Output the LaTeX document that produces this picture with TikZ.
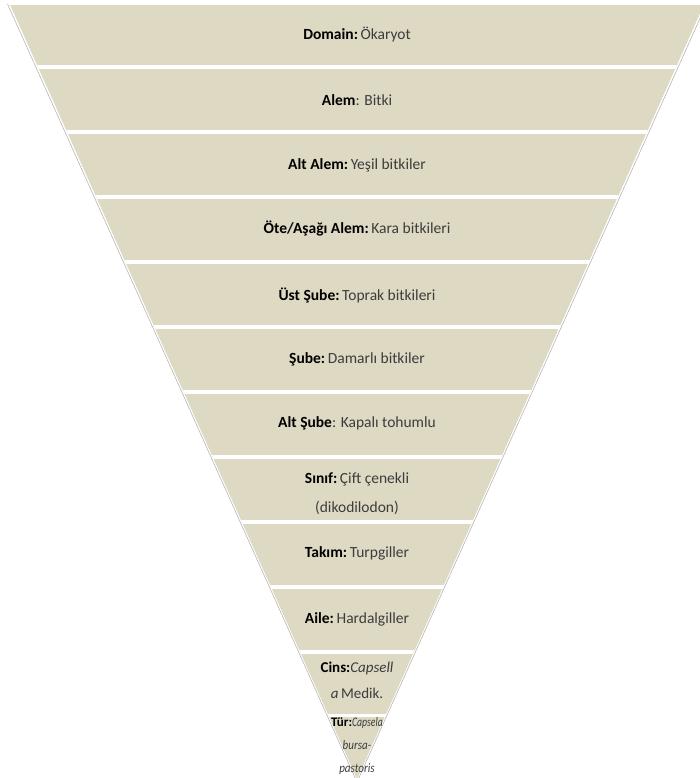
\documentclass[tikz,border=0pt]{standalone}
\usepackage{fontspec}
\setmainfont{Carlito}
\usepackage{tikz}
\definecolor{bandtan}{HTML}{DDD9C3}
\definecolor{edgegray}{RGB}{170,170,170}
\definecolor{txtgray}{RGB}{60,60,60}

\begin{document}
\begin{tikzpicture}[x=1pt,y=-1pt,font=\fontsize{15.5}{29}\selectfont,
  lbl/.style={align=center,text=txtgray,inner sep=0pt},
  gap/.style={fill=white}]
\useasboundingbox (0,0) rectangle (700,778);
\clip (0,0) rectangle (700,778);
% thin outline of the funnel
\draw[edgegray,line width=0.5pt] (7.5,4) -- (357,782) -- (706.5,4);
% the bands
\begin{scope}
\clip (10.2,5) -- (357,779) -- (703.8,5) -- cycle;
\fill[bandtan] (0,5) rectangle (700,779);
\fill[gap] (0,65) rectangle (700,69);
\fill[gap] (0,130) rectangle (700,134);
\fill[gap] (0,195) rectangle (700,199);
\fill[gap] (0,260) rectangle (700,264);
\fill[gap] (0,325) rectangle (700,329);
\fill[gap] (0,390) rectangle (700,394);
\fill[gap] (0,455) rectangle (700,459);
\fill[gap] (0,520) rectangle (700,524);
\fill[gap] (0,585) rectangle (700,589);
\fill[gap] (0,650) rectangle (700,654);
\fill[gap] (0,714) rectangle (700,717);
\end{scope}
% labels
\node[lbl] (domain) at (357,35) {\textbf{\color{black}Domain:}\,Ökaryot};
\node[lbl] (alem) at (357,100) {\textbf{\color{black}Alem}: Bitki};
\node[lbl] (altalem) at (357,165) {\textbf{\color{black}Alt Alem:}\,Yeşil bitkiler};
\node[lbl] (otealem) at (357,229) {\textbf{\color{black}Öte/Aşağı Alem:}\,Kara bitkileri};
\node[lbl] (ustsube) at (357,295) {\textbf{\color{black}Üst Şube:}\,Toprak bitkileri};
\node[lbl] (sube) at (357,359) {\textbf{\color{black}Şube:}\,Damarlı bitkiler};
\node[lbl] (altsube) at (357,423) {\textbf{\color{black}Alt Şube}: Kapalı tohumlu};
\node[lbl] (sinif) at (357,494) {\textbf{\color{black}Sınıf:}\,Çift çenekli\\(dikodilodon)};
\node[lbl] (takim) at (357,553) {\textbf{\color{black}Takım:}\,Turpgiller};
\node[lbl] (aile) at (357,619) {\textbf{\color{black}Aile:}\,Hardalgiller};
\node[lbl,font=\fontsize{15}{26}\selectfont] (cins) at (357,680)
  {\textbf{\color{black}Cins:}\textit{Capsell}\\\textit{a}\,Medik.};
\node[lbl,font=\fontsize{13}{23}\selectfont] (tur) at (357,746)
  {\textbf{\color{black}Tür:}\scalebox{0.75}[1]{\textit{Capsela}}\\
   \scalebox{0.85}[1]{\textit{bursa-}}\\\scalebox{0.85}[1]{\textit{pastoris}}};
\end{tikzpicture}
\end{document}
